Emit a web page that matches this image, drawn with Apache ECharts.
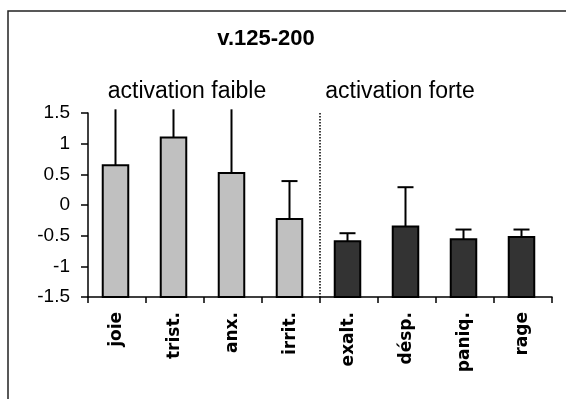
<!DOCTYPE html>
<html>
<head>
<meta charset="utf-8">
<script src="https://cdn.jsdelivr.net/npm/echarts@6/dist/echarts.min.js"></script>
<style>
    html, body { margin: 0; padding: 0; background: #fff; }
    #chart { width: 566px; height: 399px; }
</style>
</head>
<body>
<div id="chart"></div>
<script>
// Catégories et valeurs.
const categories = ["joie", "trist.", "anx.", "irrit.", "exalt.", "désp.", "paniq.", "rage"];
const means = [0.65, 1.10, 0.52, -0.23, -0.59, -0.35, -0.56, -0.52];
const errorTops = [2.0, 2.1, 1.9, 0.39, -0.46, 0.29, -0.40, -0.40];
const groups = [0, 0, 0, 0, 1, 1, 1, 1];
const groupLabels = ["activation faible", "activation forte"];
const groupColors = ["#c0c0c0", "#333333"];

const chart = echarts.init(document.getElementById("chart"));
const FONT = "'Liberation Sans', Arial, sans-serif";
const Y_MIN = -1.5;
const CLIP = 1.56;

// Barres partant du bas de l'axe, avec barre d'erreur supérieure.
function renderBar(params, api) {
    const x = api.value(0);
    const base = api.coord([x, Y_MIN]);
    const top = api.coord([x, api.value(1)]);
    const errVal = api.value(2);
    const clipped = errVal > CLIP;
    const err = api.coord([x, clipped ? CLIP : errVal]);
    const w = api.size([1, 0])[0] * 0.44;
    const cx = base[0] - 1.5;
    const children = [
        {
            type: "rect",
            shape: { x: cx - w / 2, y: top[1], width: w, height: base[1] - top[1] },
            style: { fill: groupColors[api.value(3)], stroke: "#000", lineWidth: 2 }
        },
        {
            type: "line",
            shape: { x1: cx, y1: top[1], x2: cx, y2: err[1] },
            style: { stroke: "#000", lineWidth: 2 }
        }
    ];
    if (!clipped) {
        children.push({
            type: "line",
            shape: { x1: cx - 8, y1: err[1], x2: cx + 8, y2: err[1] },
            style: { stroke: "#000", lineWidth: 2 }
        });
    }
    return { type: "group", children };
}

// Ligne pointillée entre les deux groupes.
function renderSeparator(params, api) {
    const a = api.coord([3, Y_MIN]);
    const b = api.coord([4, Y_MIN]);
    const t = api.coord([4, 1.5]);
    const x = (a[0] + b[0]) / 2;
    return {
        type: "line",
        shape: { x1: x, y1: t[1], x2: x, y2: a[1] },
        style: { stroke: "#000", lineWidth: 1.5, lineDash: [1.5, 1.5] }
    };
}

chart.setOption({
    animation: false,
    backgroundColor: "#fff",
    title: {
        text: "v.125-200",
        left: 266,
        textAlign: "center",
        top: 28,
        padding: 0,
        textStyle: { fontFamily: FONT, fontSize: 22, fontWeight: "bold", color: "#000" }
    },
    graphic: [
        {
            type: "rect",
            shape: { x: 8, y: 11, width: 620, height: 450 },
            style: { fill: null, stroke: "#222", lineWidth: 1.5 },
            silent: true
        },
        {
            type: "text",
            x: 187, y: 92,
            style: { text: groupLabels[0], font: "23px " + FONT, fill: "#000", textAlign: "center", textVerticalAlign: "middle" }
        },
        {
            type: "text",
            x: 400, y: 92,
            style: { text: groupLabels[1], font: "23px " + FONT, fill: "#000", textAlign: "center", textVerticalAlign: "middle" }
        }
    ],
    grid: { left: 88, right: 14, top: 113, bottom: 102, containLabel: false },
    xAxis: {
        type: "category",
        data: categories,
        axisLine: { onZero: false, lineStyle: { color: "#000", width: 1.5 } },
        axisTick: { show: true, length: 6, lineStyle: { color: "#000", width: 1.5 } },
        axisLabel: {
            rotate: 90,
            margin: 15,
            interval: 0,
            fontFamily: "'DejaVu Sans', sans-serif",
            fontSize: 17,
            fontWeight: "bold",
            color: "#000"
        },
        splitLine: { show: false }
    },
    yAxis: {
        type: "value",
        min: -1.5,
        max: 1.5,
        interval: 0.5,
        axisLine: { show: true, lineStyle: { color: "#000", width: 1.5 } },
        axisTick: { show: true, length: 7, lineStyle: { color: "#000", width: 1.5 } },
        axisLabel: { margin: 18, fontFamily: FONT, fontSize: 19, color: "#000" },
        splitLine: { show: false }
    },
    series: [
        {
            type: "custom",
            renderItem: renderBar,
            clip: false,
            encode: { x: 0, y: 1 },
            data: categories.map((c, i) => [i, means[i], errorTops[i], groups[i]])
        },
        {
            type: "custom",
            renderItem: renderSeparator,
            clip: false,
            data: [[3.5, 0]]
        }
    ]
});
</script>
</body>
</html>
